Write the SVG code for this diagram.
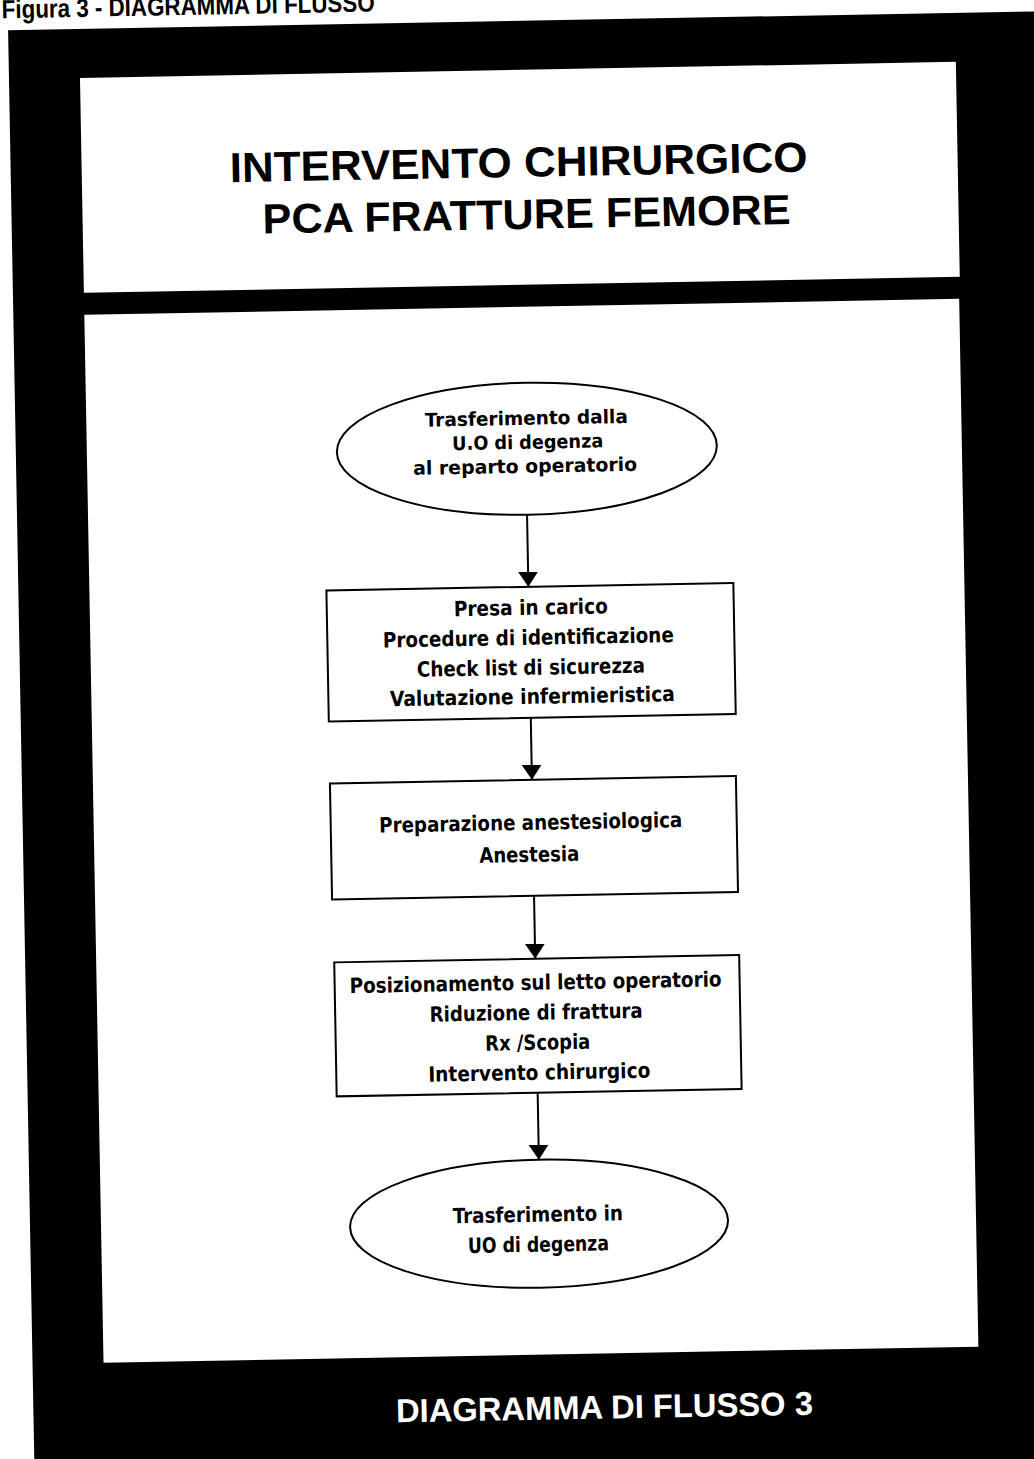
<svg xmlns="http://www.w3.org/2000/svg" width="1034" height="1459" viewBox="0 0 1034 1459">
<style>
.node{fill:#fff;stroke:#000;stroke-width:2}
.nt{font-family:"Liberation Sans Narrow","DejaVu Sans Condensed","Liberation Sans",sans-serif;font-weight:bold;font-size:21px;fill:#000;text-anchor:middle}
.nt.s{font-size:19px}
.title{font-family:"Liberation Sans","DejaVu Sans",sans-serif;font-weight:bold;font-size:42px;fill:#000;text-anchor:middle}
.foot{font-family:"Liberation Sans","DejaVu Sans",sans-serif;font-weight:bold;font-size:33px;fill:#fff;text-anchor:middle}
.fig{font-family:"Liberation Sans Narrow","Liberation Sans",sans-serif;font-weight:bold;font-size:26px;fill:#000}
.conn{stroke:#000;stroke-width:2;fill:none;marker-end:url(#ah)}
</style>
<defs>
<marker id="ah" markerUnits="userSpaceOnUse" markerWidth="15" markerHeight="20" refX="15" refY="10" orient="auto">
<path d="M0,0 L15,10 L0,20 z" fill="#000"/>
</marker>
</defs>
<rect width="1034" height="1459" fill="#fff"/>
<g transform="rotate(-1.05 517 730)">
<text id="figlabel" class="fig" x="15" y="9" textLength="373" lengthAdjust="spacingAndGlyphs">Figura 3 - DIAGRAMMA DI FLUSSO</text>
<rect x="21" y="21" width="1030" height="1450" fill="#000"/>
<g id="titlebox">
<rect x="92" y="70" width="876" height="215" fill="#fff"/>
<text class="title" x="529" y="177" textLength="578" lengthAdjust="spacingAndGlyphs">INTERVENTO CHIRURGICO</text>
<text class="title" x="536" y="229" textLength="528" lengthAdjust="spacingAndGlyphs">PCA FRATTURE FEMORE</text>
</g>
<rect id="panel" x="92" y="307" width="875" height="1048" fill="#fff"/>
<text id="footer" class="foot" x="592" y="1420" textLength="417" lengthAdjust="spacingAndGlyphs">DIAGRAMMA DI FLUSSO 3</text>
<g id="connectors">
<line class="conn" x1="531" y1="515" x2="531" y2="587"/>
<line class="conn" x1="531" y1="718" x2="531" y2="780"/>
<line class="conn" x1="531" y1="896" x2="531" y2="959"/>
<line class="conn" x1="531" y1="1093" x2="531" y2="1160"/>
</g>
<g id="n1">
<ellipse class="node" cx="532" cy="449" rx="190" ry="66"/>
<text class="nt s" x="532" y="425" textLength="203" lengthAdjust="spacingAndGlyphs">Trasferimento dalla</text>
<text class="nt s" x="533" y="449" textLength="151" lengthAdjust="spacingAndGlyphs">U.O di degenza</text>
<text class="nt s" x="530" y="473" textLength="224" lengthAdjust="spacingAndGlyphs">al reparto operatorio</text>
</g>
<g id="n2">
<rect class="node" x="329" y="587" width="407" height="131"/>
<text class="nt" x="533" y="615" textLength="154" lengthAdjust="spacingAndGlyphs">Presa in carico</text>
<text class="nt" x="530" y="645" textLength="291" lengthAdjust="spacingAndGlyphs">Procedure di identificazione</text>
<text class="nt" x="532" y="675" textLength="228" lengthAdjust="spacingAndGlyphs">Check list di sicurezza</text>
<text class="nt" x="533" y="704" textLength="285" lengthAdjust="spacingAndGlyphs">Valutazione infermieristica</text>
</g>
<g id="n3">
<rect class="node" x="329" y="780" width="406" height="116"/>
<text class="nt" x="529" y="830" textLength="303" lengthAdjust="spacingAndGlyphs">Preparazione anestesiologica</text>
<text class="nt" x="527" y="862" textLength="100" lengthAdjust="spacingAndGlyphs">Anestesia</text>
</g>
<g id="n4">
<rect class="node" x="330" y="959" width="405" height="134"/>
<text class="nt" x="531" y="990" textLength="372" lengthAdjust="spacingAndGlyphs">Posizionamento sul letto operatorio</text>
<text class="nt" x="531" y="1020" textLength="213" lengthAdjust="spacingAndGlyphs">Riduzione di frattura</text>
<text class="nt" x="532" y="1050" textLength="105" lengthAdjust="spacingAndGlyphs">Rx /Scopia</text>
<text class="nt" x="533" y="1080" textLength="222" lengthAdjust="spacingAndGlyphs">Intervento chirurgico</text>
</g>
<g id="n5">
<ellipse class="node" cx="530" cy="1224" rx="189" ry="64"/>
<text class="nt" x="529" y="1222" textLength="170" lengthAdjust="spacingAndGlyphs">Trasferimento in</text>
<text class="nt" x="529" y="1252" textLength="141" lengthAdjust="spacingAndGlyphs">UO di degenza</text>
</g>
</g>
</svg>
